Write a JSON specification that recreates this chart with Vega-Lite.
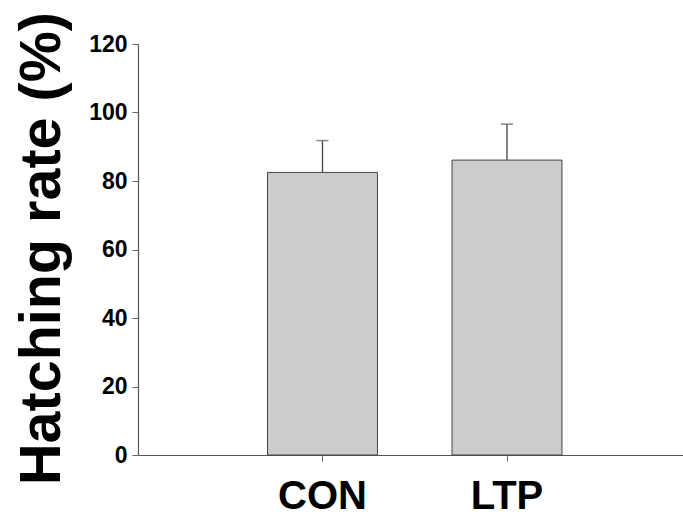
{
  "$schema": "https://vega.github.io/schema/vega-lite/v6.json",
  "width": 545,
  "height": 411,
  "autosize": {"type": "none"},
  "padding": {"left": 138, "top": 44, "right": 0, "bottom": 61},
  "background": "white",
  "config": {
    "view": {"stroke": null},
    "font": "Liberation Sans"
  },
  "data": {
    "values": [
      {"group": "CON", "rate": 82.5, "upper": 91.8},
      {"group": "LTP", "rate": 86.1, "upper": 96.6}
    ]
  },
  "encoding": {
    "x": {
      "field": "group",
      "type": "nominal",
      "sort": ["CON", "LTP"],
      "scale": {"range": [0, 553.5], "paddingInner": 0.404, "paddingOuter": 0.702},
      "axis": {
        "title": null,
        "labelAngle": 0,
        "labelFont": "Liberation Sans",
        "labelFontWeight": "bold",
        "labelFontSize": 40,
        "labelColor": "black",
        "labelPadding": 15,
        "tickSize": 6,
        "tickColor": "#666",
        "domainColor": "#555",
        "domainWidth": 1.2
      }
    }
  },
  "layer": [
    {
      "mark": {"type": "rule", "color": "#444", "strokeWidth": 1.3},
      "encoding": {
        "y": {"field": "rate", "type": "quantitative"},
        "y2": {"field": "upper"}
      }
    },
    {
      "mark": {"type": "tick", "color": "#555", "size": 12, "thickness": 1.5},
      "encoding": {
        "y": {"field": "upper", "type": "quantitative"}
      }
    },
    {
      "mark": {"type": "bar", "fill": "#cccccc", "stroke": "#444", "strokeWidth": 1},
      "encoding": {
        "y": {
          "field": "rate",
          "type": "quantitative",
          "scale": {"domain": [0, 120], "nice": false},
          "axis": {
            "title": "Hatching rate (%)",
            "titleFont": "Liberation Sans",
            "titleFontWeight": "bold",
            "titleFontSize": 57.5,
            "titleColor": "black",
            "titleAngle": 270,
            "titleAlign": "center",
            "titleBaseline": "alphabetic",
            "titleX": -78.7,
            "titleY": 204,
            "values": [0, 20, 40, 60, 80, 100, 120],
            "grid": false,
            "labelFont": "Liberation Sans",
            "labelFontWeight": "bold",
            "labelFontSize": 23,
            "labelColor": "black",
            "labelPadding": 5,
            "tickSize": 6,
            "tickColor": "#666",
            "domainColor": "#555",
            "domainWidth": 1.2
          }
        }
      }
    }
  ]
}
